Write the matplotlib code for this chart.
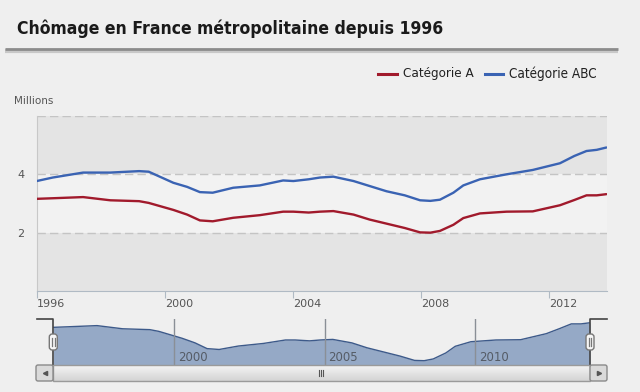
import matplotlib
matplotlib.use("Agg")
import matplotlib.pyplot as plt
from matplotlib.patches import FancyBboxPatch, Rectangle
import numpy as np

# ---------------- data ----------------
years = [1996.0, 1996.5, 1997.45, 1998.3, 1999.2, 1999.5, 2000.27, 2000.7, 2001.1, 2001.5,
         2002.14, 2002.97, 2003.7, 2004.02, 2004.5, 2004.85, 2005.27, 2005.9, 2006.4, 2006.93,
         2007.5, 2007.98, 2008.3, 2008.6, 2009.02, 2009.33, 2009.85, 2010.68, 2011.5, 2012.35,
         2012.8, 2013.18, 2013.5, 2013.8]
cat_abc = [3.77, 3.89, 4.06, 4.06, 4.11, 4.09, 3.71, 3.57, 3.39, 3.37,
           3.54, 3.62, 3.79, 3.77, 3.83, 3.89, 3.92, 3.77, 3.60, 3.42,
           3.28, 3.11, 3.09, 3.13, 3.37, 3.62, 3.83, 4.00, 4.15, 4.38,
           4.63, 4.80, 4.84, 4.92]
cat_a = [3.16, 3.18, 3.22, 3.11, 3.08, 3.02, 2.78, 2.62, 2.42, 2.39,
         2.51, 2.60, 2.72, 2.72, 2.69, 2.72, 2.74, 2.62, 2.45, 2.31,
         2.16, 2.01, 2.00, 2.06, 2.27, 2.50, 2.66, 2.72, 2.73, 2.94,
         3.12, 3.28, 3.28, 3.32]
y_ticks = [2, 4]
x_ticks = [1996, 2000, 2004, 2008, 2012]
nav_ticks = [2000, 2005, 2010]
title = "Chômage en France métropolitaine depuis 1996"
series_names = ["Catégorie A", "Catégorie ABC"]
unit_label = "Millions"

# ---------------- style ----------------
W, H = 640, 392
BG = "#efefef"
RED = "#a11a2c"
BLUE = "#3a63b3"

fig = plt.figure(figsize=(W / 100, H / 100), dpi=100, facecolor=BG)

def px_axes(l, t, r, b):
    return fig.add_axes([l / W, 1 - b / H, (r - l) / W, (b - t) / H])

# main chart
ax = px_axes(36.7, 116, 607, 291)
ax.set_facecolor(BG)
ax.axhspan(0, 2, color="#e4e4e4", zorder=0, lw=0)
ax.axhspan(2, 4, color="#f2f2f2", zorder=0, lw=0)
ax.axhspan(4, 6, color="#e4e4e4", zorder=0, lw=0)
for g in [2, 4, 6]:
    ax.axhline(g, color="#c4c4c4", lw=1, dashes=(6, 3), zorder=1)
ax.plot(years, cat_a, color=RED, lw=1.7, zorder=3, solid_capstyle="round")
ax.plot(years, cat_abc, color=BLUE, lw=1.7, zorder=3, solid_capstyle="round")
ax.set_xlim(1996.0, 2013.82)
ax.set_ylim(0, 6)
ax.set_yticks(y_ticks)
ax.set_yticklabels([str(v) for v in y_ticks], color="#555555", fontsize=8)
ax.set_xticks(x_ticks)
ax.set_xticklabels([str(v) for v in x_ticks], color="#555555", fontsize=8)
ax.tick_params(axis="y", length=0, pad=9)
ax.tick_params(axis="x", length=5, color="#b0bac4", pad=1)
for s in ["top", "right"]:
    ax.spines[s].set_visible(False)
ax.spines["left"].set_color("#c8c8c8")
ax.spines["bottom"].set_color("#b0bac4")
for lab in ax.get_xticklabels():
    lab.set_horizontalalignment("left")

# navigator
nav = px_axes(53.3, 319, 590, 365)
nav.set_facecolor(BG)
nav.fill_between(years, cat_a, 0, color="#95a9c6", lw=0, zorder=1)
nav.plot(years, cat_a, color="#3d5a8a", lw=1, zorder=2)
nav.set_xlim(1996.0, 2013.8)
nav.set_ylim(1.85, 3.45)
for t in nav_ticks:
    nav.axvline(t, color="#8a8f96", lw=1, zorder=3)
    nav.text(t + 0.13, 1.88, str(t), color="#555c66", fontsize=8.5, va="bottom", ha="left", zorder=4)
nav.set_xticks([])
nav.set_yticks([])
for s in nav.spines.values():
    s.set_visible(False)

# overlay for decorations (pixel coords)
ov = fig.add_axes([0, 0, 1, 1], facecolor="none")
ov.set_xlim(0, W)
ov.set_ylim(H, 0)
ov.axis("off")

renderer = fig.canvas.get_renderer()

def fit_text(x, y, s, target_w, size, **kw):
    t = ov.text(x, y, s, fontsize=size, family="DejaVu Sans", fontstretch="condensed",
                va="center", ha="left", **kw)
    w = t.get_window_extent(renderer).width
    if w > 0:
        t.set_fontsize(size * target_w / w)
    return t

# title
fit_text(17, 29, title, 426, 17, fontweight="bold", color="#1a1a1a")
ov.plot([5, 618], [50.5, 50.5], color="#c8c8c8", lw=3, solid_capstyle="butt")
ov.plot([5, 618], [49.3, 49.3], color="#8c8c8c", lw=2, solid_capstyle="butt")

# legend
ov.plot([378, 397], [74, 74], color=RED, lw=2.2)
fit_text(403, 73.5, series_names[0], 71, 11.5, color="#222222")
ov.plot([485, 503], [74, 74], color=BLUE, lw=2.2)
fit_text(509, 73.5, series_names[1], 88, 11.5, color="#222222")

# unit label
ov.text(14, 101, unit_label, fontsize=7.5, color="#555555", va="center", ha="left")

# navigator brackets
ov.plot([37, 53.3, 53.3], [319, 319, 365], color="#444444", lw=1.2)
ov.plot([607, 590, 590], [319, 319, 365], color="#444444", lw=1.2)
for hx in [53.3, 590]:
    ov.add_patch(FancyBboxPatch((hx - 4, 334), 8, 16, boxstyle="round,pad=0,rounding_size=3",
                                fc="#f6f6f6", ec="#777777", lw=1, zorder=5))
    ov.plot([hx - 1.3, hx - 1.3], [338, 346], color="#777777", lw=0.9, zorder=6)
    ov.plot([hx + 1.3, hx + 1.3], [338, 346], color="#777777", lw=0.9, zorder=6)

# scrollbar
grad = np.linspace(0, 1, 16).reshape(-1, 1)
ov.imshow(grad, cmap=matplotlib.colors.LinearSegmentedColormap.from_list("g", ["#f4f4f4", "#d4d4d4"]),
          extent=(53.3, 590, 381, 365), aspect="auto", zorder=2)
ov.add_patch(Rectangle((53.3, 365), 536.7, 16, fc="none", ec="#9a9a9a", lw=1, zorder=3))
for bx in [36, 590]:
    ov.add_patch(FancyBboxPatch((bx, 365), 17, 16, boxstyle="round,pad=0,rounding_size=2",
                                fc="#dadada", ec="#8a8a8a", lw=1, zorder=3))
ov.plot([44.5], [373], marker="<", color="#555555", ms=3, zorder=4)
ov.plot([598.5], [373], marker=">", color="#555555", ms=3, zorder=4)
for dx in [-2, 0, 2]:
    ov.plot([321 + dx, 321 + dx], [370, 376], color="#555555", lw=0.8, zorder=4)
ov.set_xlim(0, W)
ov.set_ylim(H, 0)

fig.savefig("out.png", dpi=100, facecolor=BG)
